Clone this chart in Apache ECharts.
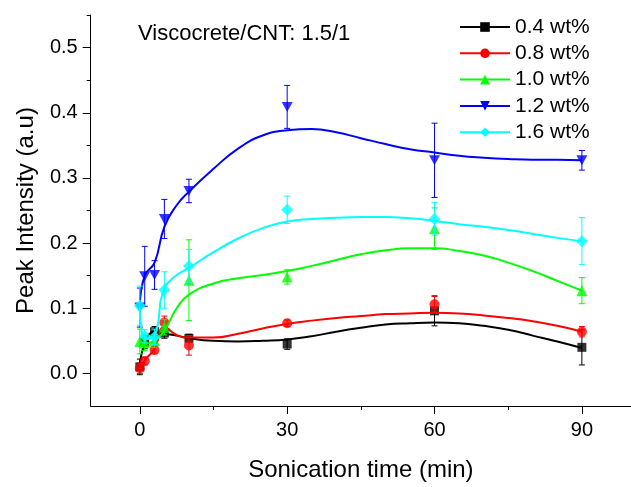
<!DOCTYPE html>
<html><head><meta charset="utf-8">
<script src="https://cdn.jsdelivr.net/npm/echarts@6/dist/echarts.min.js"></script>
<style>html,body{margin:0;padding:0;background:#fff;width:100%;height:100%;overflow:hidden}#c{width:100vw;height:100vh}</style>
</head><body><div id="c"></div>
<script>
// ---- data ----
const times = [0, 1, 3, 5, 10, 30, 60, 90];
const names = ['0.4 wt%', '0.8 wt%', '1.0 wt%', '1.2 wt%', '1.6 wt%'];

const val04 = [0.010, 0.048, 0.064, 0.062, 0.054, 0.045, 0.096, 0.040];
const err04 = [0.012, 0.010, 0.008, 0.008, 0.006, 0.008, 0.023, 0.027];
const val08 = [0.008, 0.019, 0.036, 0.078, 0.043, 0.077, 0.106, 0.064];
const err08 = [0.008, 0.006, 0.006, 0.010, 0.015, 0.005, 0.012, 0.008];
const val10 = [0.049, 0.047, 0.050, 0.071, 0.143, 0.148, 0.222, 0.127];
const err10 = [0.019, 0.012, 0.010, 0.012, 0.062, 0.011, 0.032, 0.020];
const val12 = [0.101, 0.149, 0.151, 0.237, 0.280, 0.409, 0.327, 0.327];
const err12 = [0.030, 0.046, 0.022, 0.030, 0.018, 0.033, 0.057, 0.015];
const val16 = [0.104, 0.057, 0.056, 0.128, 0.165, 0.251, 0.237, 0.203];
const err16 = [0.030, 0.010, 0.012, 0.028, 0.025, 0.021, 0.025, 0.036];

// fitted curves: [time, intensity]
const fit04 = [[0,0.010],[1,0.045],[3,0.064],[5,0.061],[7.5,0.058],[10,0.054],[15,0.050],[20,0.049],[25,0.050],[30,0.052],[35,0.057],[40,0.064],[45,0.070],[50,0.075],[55,0.077],[60,0.078],[65,0.077],[70,0.073],[75,0.067],[80,0.058],[85,0.049],[90,0.039]];
const fit08 = [[0,0.007],[1,0.020],[3,0.038],[5,0.071],[7.5,0.059],[10,0.055],[15,0.055],[20,0.061],[25,0.069],[30,0.076],[35,0.081],[40,0.085],[45,0.088],[50,0.091],[55,0.092],[60,0.093],[65,0.092],[70,0.089],[75,0.085],[80,0.080],[85,0.073],[90,0.064]];
const fit10 = [[0,0.050],[1,0.046],[3,0.051],[5,0.066],[7.5,0.100],[10,0.121],[15,0.138],[20,0.146],[25,0.151],[30,0.157],[35,0.165],[40,0.174],[45,0.183],[50,0.189],[55,0.192],[60,0.192],[65,0.188],[70,0.181],[75,0.170],[80,0.157],[85,0.142],[90,0.127]];
const fit12 = [[0,0.102],[1,0.150],[3,0.170],[5,0.225],[7.5,0.258],[10,0.279],[15,0.314],[20,0.345],[25,0.365],[30,0.373],[35,0.375],[40,0.370],[45,0.361],[50,0.352],[55,0.344],[60,0.339],[65,0.334],[70,0.331],[75,0.329],[80,0.328],[85,0.328],[90,0.327]];
const fit16 = [[0,0.102],[0.7,0.056],[2,0.053],[3.4,0.066],[4.7,0.125],[7,0.148],[10,0.162],[15,0.186],[20,0.207],[25,0.223],[30,0.233],[35,0.237],[40,0.239],[45,0.240],[50,0.240],[55,0.238],[60,0.234],[65,0.229],[70,0.225],[75,0.220],[80,0.214],[85,0.208],[90,0.203]];

const xMajor = [0, 30, 60, 90];
const xMinor = [15, 45, 75];
const yMajor = [0, 0.1, 0.2, 0.3, 0.4, 0.5];
const yMinor = [0.05, 0.15, 0.25, 0.35, 0.45, 0.55];

const annotation = 'Viscocrete/CNT: 1.5/1';
// ---- end data ----

const FONT = '"Liberation Sans", Arial, sans-serif';
const colors = ['#000000', '#ff0000', '#00ff00', '#0000ff', '#00ffff'];
const symbols = ['rect', 'circle', 'triangle', 'path://M0,0L10,0L5,10Z', 'diamond'];
const symSizes = [9, 10, 11, [11, 10], 12];
const vals = [val04, val08, val10, val12, val16];
const errs = [err04, err08, err10, err12, err16];
const fits = [fit04, fit08, fit10, fit12, fit16];

const series = [];
names.forEach((n, k) => {
  series.push({
    name: n, type: 'line', data: fits[k], smooth: 0.5, showSymbol: false,
    symbol: symbols[k], symbolSize: symSizes[k],
    lineStyle: { color: colors[k], width: 2 }, itemStyle: { color: colors[k] },
    z: 2 + k * 3, silent: true
  });
  series.push({
    name: n + ' err', type: 'custom',
    data: times.map((t, i) => [t, vals[k][i], errs[k][i]]),
    encode: { x: 0, y: 1 },
    z: 3 + k * 3, silent: true,
    renderItem: (params, api) => {
      const x = api.value(0), y = api.value(1), e = api.value(2);
      const top = api.coord([x, y + e]), bot = api.coord([x, y - e]);
      const hw = 3, c = colors[k];
      const st = { stroke: c, lineWidth: 1 };
      return { type: 'group', children: [
        { type: 'line', shape: { x1: top[0], y1: top[1], x2: bot[0], y2: bot[1] }, style: st },
        { type: 'line', shape: { x1: top[0] - hw, y1: top[1], x2: top[0] + hw, y2: top[1] }, style: st },
        { type: 'line', shape: { x1: bot[0] - hw, y1: bot[1], x2: bot[0] + hw, y2: bot[1] }, style: st }
      ]};
    }
  });
  series.push({
    name: n + ' pts', type: 'scatter',
    data: times.map((t, i) => [t, vals[k][i]]),
    symbol: symbols[k], symbolSize: symSizes[k],
    itemStyle: { color: colors[k] }, z: 4 + k * 3, silent: true
  });
});

const axisLineStyle = { color: '#000', width: 1 };
const chart = echarts.init(document.getElementById('c'));
chart.setOption({
  animation: false,
  backgroundColor: '#fff',
  grid: { left: 90.7, right: -2, top: 15, bottom: 73, containLabel: false },
  xAxis: [{
    type: 'value', min: -10, max: 100, position: 'bottom',
    name: 'Sonication time (min)', nameLocation: 'middle', nameGap: 52,
    nameTextStyle: { fontFamily: FONT, fontSize: 24, color: '#000' },
    axisLine: { show: true, onZero: false, lineStyle: axisLineStyle },
    axisTick: { show: true, inside: false, length: 8, customValues: xMajor, lineStyle: axisLineStyle },
    axisLabel: { customValues: xMajor, fontFamily: FONT, fontSize: 20, color: '#000', margin: 14 },
    splitLine: { show: false }
  }, {
    type: 'value', min: -10, max: 100, position: 'bottom', offset: 0,
    axisLine: { show: false, onZero: false },
    axisTick: { show: true, inside: false, length: 4, customValues: xMinor, lineStyle: axisLineStyle },
    axisLabel: { show: false }, splitLine: { show: false }
  }],
  yAxis: [{
    type: 'value', min: -0.05, max: 0.55, position: 'left',
    name: 'Peak Intensity (a.u)', nameLocation: 'middle', nameGap: 52,
    nameTextStyle: { fontFamily: FONT, fontSize: 24, color: '#000' },
    axisLine: { show: true, onZero: false, lineStyle: axisLineStyle },
    axisTick: { show: true, inside: false, length: 8, customValues: yMajor, lineStyle: axisLineStyle },
    axisLabel: { customValues: yMajor, fontFamily: FONT, fontSize: 20, color: '#000', margin: 13,
      formatter: v => v.toFixed(1) },
    splitLine: { show: false }
  }, {
    type: 'value', min: -0.05, max: 0.55, position: 'left', offset: 0,
    axisLine: { show: false, onZero: false },
    axisTick: { show: true, inside: false, length: 4, customValues: yMinor, lineStyle: axisLineStyle },
    axisLabel: { show: false }, splitLine: { show: false }
  }],
  legend: {
    data: names, orient: 'vertical', left: 454, top: 11, padding: 5,
    itemWidth: 50, itemHeight: 12, itemGap: 4.3,
    textStyle: { fontFamily: FONT, fontSize: 21, color: '#000', lineHeight: 22 },
    selectedMode: false
  },
  graphic: [{
    type: 'text', left: 138, top: 23,
    style: { text: annotation, font: '22px ' + FONT, fill: '#000' }
  }],
  series: series
});
</script>
</body></html>
